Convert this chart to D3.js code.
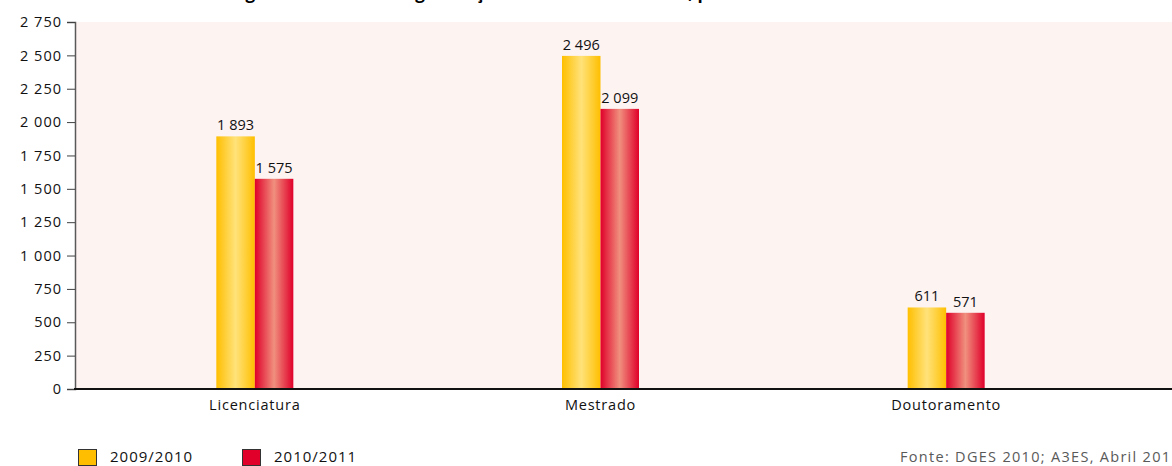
<!DOCTYPE html>
<html><head><meta charset="utf-8">
<script src="https://cdn.jsdelivr.net/npm/d3@7"></script>
<style>
body{margin:0;background:#fff;}
svg{display:block;font-family:"Open Sans",sans-serif;}
</style></head>
<body>
<svg id="chart" width="1172" height="466"></svg>
<script>
const categories = ["Licenciatura", "Mestrado", "Doutoramento"];
const seriesNames = ["2009/2010", "2010/2011"];
const values2009 = [1893, 2496, 611];
const values2010 = [1575, 2099, 571];
const yTicks = [0, 250, 500, 750, 1000, 1250, 1500, 1750, 2000, 2250, 2500, 2750];
const titleText = "Figura 3 – Número de graduações concedidas em total, por ciclo";
const sourceText = "Fonte: DGES 2010; A3ES, Abril 2011";

(function () {
const svg = d3.select("#chart");
const W = 1172;
const mLeft = 75, mTop = 22, mBottom = 389;
const FONT = "'Open Sans', sans-serif";

const fmt = v => d3.format(",")(v).replace(/,/g, " ");

const x = d3.scaleBand().domain(categories).range([82, 1119]).padding(0);
const y = d3.scaleLinear().domain([0, 2750]).range([mBottom, mTop]);
const barW = 38.5;

const defs = svg.append("defs");
function grad(id, edge, mid) {
  const g = defs.append("linearGradient").attr("id", id).attr("x1", "0%").attr("x2", "100%").attr("y1", "0%").attr("y2", "0%");
  g.append("stop").attr("offset", "0%").attr("stop-color", edge);
  g.append("stop").attr("offset", "50%").attr("stop-color", mid);
  g.append("stop").attr("offset", "100%").attr("stop-color", edge);
}
grad("gY", "#ffbf00", "#ffe27a");
grad("gR", "#e0002a", "#f0907e");

// title (mostly outside the visible area, as in the reference)
svg.append("text").attr("x", 231).attr("y", -1).attr("font-weight", "bold")
  .attr("font-size", 17).attr("fill", "#000").text(titleText);

// plot background
svg.append("rect").attr("x", mLeft).attr("y", mTop).attr("width", W - mLeft).attr("height", mBottom - mTop)
  .attr("fill", "#fdf3f1");

// y axis
const yAxis = d3.axisLeft(y).tickValues(yTicks).tickSize(8).tickPadding(5).tickFormat(fmt);
const ya = svg.append("g").attr("transform", `translate(${mLeft},0)`).call(yAxis);
ya.select(".domain").attr("stroke", "#595959").attr("stroke-width", 1.5);
ya.selectAll(".tick line").attr("stroke", "#404040");
ya.selectAll(".tick text").attr("font-size", 14.5).attr("fill", "#111")
  .attr("font-family", FONT).attr("letter-spacing", 1);

// bars
const series = [values2009, values2010];
const fills = ["url(#gY)", "url(#gR)"];
series.forEach((vals, si) => {
  svg.append("g").selectAll("rect").data(categories).join("rect")
    .attr("x", c => x(c) + x.bandwidth() / 2 - barW + si * barW)
    .attr("y", (c, i) => y(vals[i]))
    .attr("width", barW)
    .attr("height", (c, i) => y(0) - y(vals[i]))
    .attr("fill", fills[si]);
  svg.append("g").selectAll("text").data(categories).join("text")
    .attr("x", c => x(c) + x.bandwidth() / 2 - barW / 2 + si * barW)
    .attr("y", (c, i) => y(vals[i]) - 6)
    .attr("text-anchor", "middle")
    .attr("font-size", 14.5).attr("fill", "#111")
    .text((c, i) => fmt(vals[i]));
});

// x axis
const xAxis = d3.axisBottom(x).tickSize(0).tickPadding(11);
const xa = svg.append("g").attr("transform", `translate(0,${mBottom})`).call(xAxis);
xa.select(".domain").remove();
xa.selectAll(".tick text").attr("font-size", 14.5).attr("fill", "#111")
  .attr("font-family", FONT).attr("letter-spacing", 0.8);
svg.append("line").attr("x1", mLeft - 1).attr("x2", W).attr("y1", mBottom).attr("y2", mBottom)
  .attr("stroke", "#111").attr("stroke-width", 2);

// legend
const legColors = ["#ffbf00", "#e0002a"];
const legX = [78, 242];
seriesNames.forEach((n, i) => {
  svg.append("rect").attr("x", legX[i] + 0.5).attr("y", 449.5).attr("width", 18).attr("height", 16)
    .attr("fill", legColors[i]).attr("stroke", "#333").attr("stroke-width", 1);
  svg.append("text").attr("x", legX[i] + 32).attr("y", 462).attr("font-size", 15)
    .attr("letter-spacing", 1).attr("fill", "#111").text(n);
});

// source
svg.append("text").attr("x", 900).attr("y", 462).attr("font-size", 14.5).attr("fill", "#595959")
  .attr("letter-spacing", 1.3).text(sourceText);
})();
</script>
</body></html>
